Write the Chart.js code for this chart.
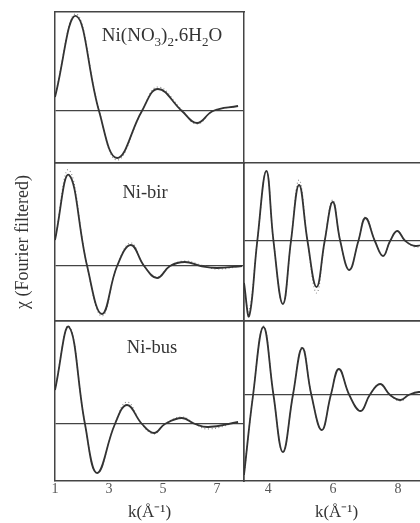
<!DOCTYPE html>
<html>
<head>
<meta charset="utf-8">
<script src="https://cdn.jsdelivr.net/npm/chart.js@4.4.1/dist/chart.umd.min.js"></script>
<style>
  html, body { margin: 0; padding: 0; background: #fff; }
  body { position: relative; width: 420px; height: 523px; overflow: hidden; font-family: "Liberation Serif", serif; }
  canvas { position: absolute; }
  .label { position: absolute; transform: translate(-50%, -50%); font-size: 18.5px; color: #333; white-space: nowrap; }
  .label sub { font-size: 13px; }
</style>
</head>
<body>
<canvas id="nitrate" width="197" height="159" style="left:51px;top:8px"></canvas>
<canvas id="birLeft" width="248" height="166" style="left:0;top:159px"></canvas>
<canvas id="busLeft" width="197" height="212" style="left:51px;top:317px"></canvas>
<canvas id="birRight" width="193" height="166" style="left:240px;top:159px"></canvas>
<canvas id="busRight" width="193" height="212" style="left:240px;top:317px"></canvas>

<div class="label" style="left:162px;top:37px;font-size:19px">Ni(NO<sub>3</sub>)<sub>2</sub>.6H<sub>2</sub>O</div>
<div class="label" style="left:145px;top:192px">Ni-bir</div>
<div class="label" style="left:152px;top:347px">Ni-bus</div>

<script>
// k (Å^-1) and Fourier filtered chi (first shell, left column)
const kNitrate = [1.0, 1.78, 2.63, 3.30, 4.22, 4.81, 5.70, 6.26, 6.85, 7.78];
const chiNitrateFit = [0.14, 0.95, 0, -0.47, 0, 0.22, 0, -0.12, 0, 0.05];
const chiNitrateData = [0.15, 0.97, 0.01, -0.49, 0, 0.24, 0.01, -0.13, 0, 0.05];

const kBirLeft = [1.0, 1.52, 2.19, 2.74, 3.30, 3.81, 4.30, 4.78, 5.26, 5.81, 6.40, 7.00, 7.93];
const chiBirLeftFit = [0.26, 0.91, 0, -0.48, 0, 0.21, 0, -0.12, 0, 0.04, 0, -0.02, 0];
const chiBirLeftData = [0.27, 0.96, 0, -0.50, 0, 0.23, 0, -0.11, 0, 0.05, 0.01, -0.03, 0];

const kBusLeft = [1.0, 1.52, 2.11, 2.56, 3.22, 3.67, 4.22, 4.67, 5.07, 5.70, 6.19, 6.67, 7.78];
const chiBusLeftFit = [0.34, 0.97, 0, -0.49, 0, 0.19, 0, -0.09, 0, 0.06, 0, -0.03, 0.02];
const chiBusLeftData = [0.35, 0.98, 0, -0.49, 0, 0.22, 0, -0.10, 0, 0.07, 0, -0.05, 0.02];

// second column, higher shells
const kBirRight = [3.25, 3.41, 3.66, 3.94, 4.16, 4.45, 4.70, 4.95, 5.21, 5.49, 5.74, 5.99,
  6.22, 6.50, 6.78, 7.00, 7.29, 7.54, 7.76, 7.98, 8.23, 8.55, 8.96];
const chiBirRightFit = [-0.42, -0.75, 0, 0.70, 0, -0.63, 0, 0.56, 0, -0.46, 0, 0.39,
  0, -0.29, 0, 0.23, 0, -0.15, 0, 0.10, 0, -0.05, -0.01];
const chiBirRightData = [-0.50, -0.70, 0, 0.70, 0, -0.63, 0, 0.61, 0, -0.52, 0, 0.41,
  0, -0.29, 0, 0.24, 0, -0.15, 0, 0.10, 0, -0.06, -0.02];

const kBusRight = [3.25, 3.53, 3.85, 4.16, 4.45, 4.76, 5.05, 5.33, 5.65, 5.93, 6.18,
  6.50, 6.85, 7.13, 7.45, 7.76, 8.08, 8.33, 8.65, 8.96];
const chiBusRightFit = [-0.80, 0, 0.68, 0, -0.57, 0, 0.47, 0, -0.35, 0, 0.26,
  0, -0.16, 0, 0.11, 0, -0.05, 0, 0.03, 0.01];
const chiBusRightData = [-0.80, 0, 0.69, 0, -0.57, 0, 0.48, 0, -0.35, 0, 0.26,
  0, -0.16, 0, 0.11, 0, -0.06, 0, 0.03, 0.01];

const leftTickLabels = [1, 3, 5, 7];
const rightTickLabels = [4, 6, 8];

const INK = "#333";
const SERIF = "Liberation Serif";
const FRAME = { display: true, color: "#444", width: 1.5 };

const toPoints = (k, chi) => k.map((x, i) => ({ x, y: chi[i] }));

const edge = (position) => ({
  type: "linear",
  position,
  grid: { display: false, drawTicks: false },
  ticks: { display: false },
  border: FRAME,
});

const makePanel = (id, k, fit, dots, kRange, chiRange, opts = {}) => {
  const xAxis = edge("bottom");
  xAxis.min = kRange[0];
  xAxis.max = kRange[1];
  if (opts.tickLabels) {
    xAxis.ticks = {
      display: true,
      stepSize: 1,
      includeBounds: false,
      autoSkip: false,
      maxRotation: 0,
      padding: 0,
      color: "#555",
      font: { family: SERIF, size: 14 },
      callback: (v) => (opts.tickLabels.includes(v) ? String(v) : ""),
    };
    xAxis.title = {
      display: true,
      text: "k(Å⁻¹)",
      color: INK,
      font: { family: SERIF, size: 17 },
      padding: { top: 0, bottom: 2 },
    };
    xAxis.afterFit = (s) => { s.height = 44; };
  }

  const yAxis = {
    type: "linear",
    position: "left",
    min: chiRange[0],
    max: chiRange[1],
    afterBuildTicks: (s) => { s.ticks = [{ value: 0 }]; },
    grid: { color: "#444", lineWidth: 1.3, drawTicks: false },
    ticks: { display: false },
    border: FRAME,
  };
  if (opts.yTitle) {
    yAxis.title = {
      display: true,
      text: opts.yTitle,
      color: INK,
      font: { family: SERIF, size: 18 },
      padding: { top: 8, bottom: 0 },
    };
    yAxis.afterFit = (s) => { s.width = 51; };
  }

  new Chart(document.getElementById(id), {
    type: "line",
    data: {
      datasets: [
        {
          label: "fit",
          data: toPoints(k, fit),
          borderColor: INK,
          borderWidth: 1.8,
          pointRadius: 0,
          tension: 0.42,
          order: 0,
        },
        {
          label: "data",
          data: toPoints(k, dots),
          borderColor: "#888",
          borderWidth: 1.2,
          borderDash: [1, 2.5],
          pointRadius: 0,
          tension: 0.42,
          order: 1,
        },
      ],
    },
    options: {
      responsive: false,
      animation: false,
      layout: { padding: 4 },
      plugins: { legend: { display: false }, tooltip: { enabled: false } },
      scales: {
        x: xAxis,
        x2: edge("top"),
        y: yAxis,
        y2: edge("right"),
      },
    },
  });
};

makePanel("nitrate", kNitrate, chiNitrateFit, chiNitrateData, [1, 8], [-0.52, 0.99]);
makePanel("birLeft", kBirLeft, chiBirLeftFit, chiBirLeftData, [1, 8], [-0.55, 1.03],
  { yTitle: "χ (Fourier filtered)" });
makePanel("busLeft", kBusLeft, chiBusLeftFit, chiBusLeftData, [1, 8], [-0.57, 1.03],
  { tickLabels: leftTickLabels });
makePanel("birRight", kBirRight, chiBirRightFit, chiBirRightData, [3.25, 8.96], [-0.80, 0.78]);
makePanel("busRight", kBusRight, chiBusRightFit, chiBusRightData, [3.25, 8.96], [-0.86, 0.74],
  { tickLabels: rightTickLabels });
</script>
</body>
</html>
